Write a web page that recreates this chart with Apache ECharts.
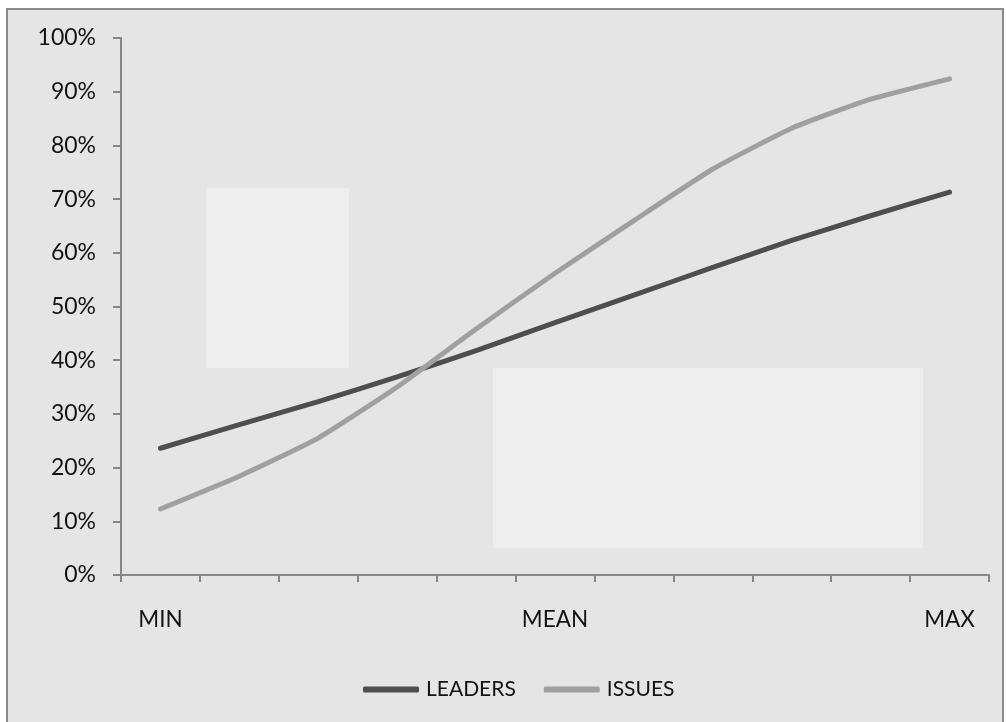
<!DOCTYPE html>
<html>
<head>
<meta charset="utf-8">
<title>Leaders vs Issues</title>
<script src="https://cdn.jsdelivr.net/npm/echarts@6/dist/echarts.min.js"></script>
<style>
  html, body { margin: 0; padding: 0; background: #ffffff; }
  #chart { width: 1006px; height: 722px; }
</style>
</head>
<body>
<div id="chart"></div>
<script>
// Position along the distribution, from the minimum through the mean to the maximum
const categories = ['MIN', '', '', '', '', 'MEAN', '', '', '', '', 'MAX'];

// Share (%) at each position
const leaders = [23.6, 28.0, 32.3, 36.9, 41.8, 47.0, 52.1, 57.3, 62.3, 66.9, 71.3];
const issues  = [12.3, 18.4, 25.5, 35.0, 45.8, 56.2, 66.0, 75.6, 83.2, 88.6, 92.4];

const yTicks = { min: 0, max: 100, interval: 10 };

const FONT = 'Lato, "Open Sans", sans-serif';
const TEXT = '#141414';
const AXIS = '#868686';

const chart = echarts.init(document.getElementById('chart'), null, { renderer: 'canvas' });

chart.setOption({
  animation: false,
  backgroundColor: '#ffffff',
  graphic: [
    {
      // chart panel with its grey frame
      type: 'rect', z: -10, silent: true,
      shape: { x: 7, y: 9, width: 996, height: 720 },
      style: { fill: '#e5e5e5', stroke: '#8a8a8a', lineWidth: 2 }
    },
    {
      type: 'rect', z: -9, silent: true,
      shape: { x: 206, y: 188, width: 143, height: 180 },
      style: { fill: '#eeeeee' }
    },
    {
      type: 'rect', z: -9, silent: true,
      shape: { x: 493, y: 368, width: 430, height: 180 },
      style: { fill: '#eeeeee' }
    }
  ],
  grid: { left: 121, right: 17, top: 38, bottom: 147, containLabel: false },
  legend: {
    top: 674,
    left: 358,
    icon: 'roundRect',
    itemWidth: 56,
    itemHeight: 6,
    itemGap: 28,
    textStyle: { fontFamily: FONT, fontSize: 21, color: TEXT, padding: [0, 0, 0, 2] },
    data: ['LEADERS', 'ISSUES']
  },
  xAxis: {
    type: 'category',
    data: categories,
    boundaryGap: true,
    axisLine: { lineStyle: { color: AXIS, width: 2 } },
    axisTick: { show: true, length: 7, inside: false, lineStyle: { color: AXIS, width: 2 } },
    axisLabel: { interval: 0, margin: 33, fontFamily: FONT, fontSize: 22.5, color: TEXT },
    splitLine: { show: false }
  },
  yAxis: {
    type: 'value',
    min: yTicks.min,
    max: yTicks.max,
    interval: yTicks.interval,
    axisLine: { show: true, lineStyle: { color: AXIS, width: 2 } },
    axisTick: { show: true, length: 8, lineStyle: { color: AXIS, width: 2 } },
    axisLabel: { margin: 25, fontFamily: FONT, fontSize: 23, color: TEXT, formatter: '{value}%' },
    splitLine: { show: false }
  },
  series: [
    {
      name: 'LEADERS',
      type: 'line',
      data: leaders,
      smooth: 0.15,
      symbol: 'none',
      itemStyle: { color: '#4e4e4e' },
      lineStyle: { color: '#4e4e4e', width: 5, cap: 'round' }
    },
    {
      name: 'ISSUES',
      type: 'line',
      data: issues,
      smooth: 0.15,
      symbol: 'none',
      itemStyle: { color: '#a0a0a0' },
      lineStyle: { color: '#a0a0a0', width: 5, cap: 'round' }
    }
  ]
});
</script>
</body>
</html>
